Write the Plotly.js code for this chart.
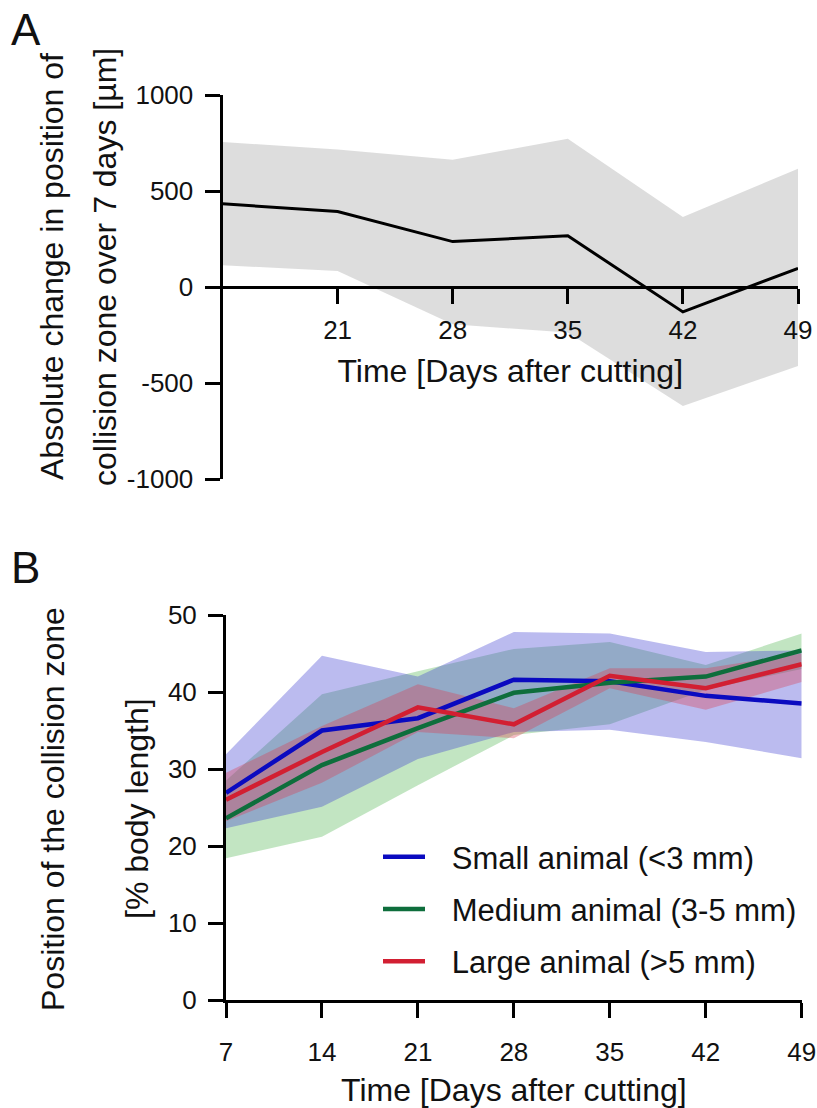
<!DOCTYPE html>
<html>
<head>
<meta charset="utf-8">
<script src="https://cdn.plot.ly/plotly-3.0.1.min.js"></script>
<style>html,body{margin:0;padding:0;background:#fff;}#chart{width:817px;height:1108px;}</style>
</head>
<body>
<div id="chart"></div>
<script>
// ---------- Panel A data ----------
const daysA = [14, 21, 28, 35, 42, 49];
const meanA = [435, 395, 238, 268, -128, 99];
const upperA = [757, 718, 664, 774, 366, 618];
const lowerA = [115, 85, -193, -236, -618, -410];
const ticksA_x = [21, 28, 35, 42, 49];
const ticksA_y = [-1000, -500, 0, 500, 1000];
const titleA_y = ['Absolute change in position of', 'collision zone over 7 days [µm]'];
const titleA_x = 'Time [Days after cutting]';

// ---------- Panel B data ----------
const daysB = [7, 14, 21, 28, 35, 42, 49];
const smallMean  = [26.9, 35.0, 36.6, 41.6, 41.4, 39.5, 38.5];
const smallUpper = [31.9, 44.7, 42.0, 47.8, 47.6, 45.2, 45.4];
const smallLower = [22.3, 25.1, 31.3, 34.8, 35.1, 33.5, 31.4];
const mediumMean  = [23.6, 30.5, 35.3, 39.9, 41.2, 42.0, 45.4];
const mediumUpper = [28.5, 39.7, 42.7, 45.6, 46.5, 43.5, 47.6];
const mediumLower = [18.4, 21.2, 27.9, 34.4, 35.8, 40.3, 43.0];
const largeMean  = [26.0, 32.2, 38.0, 35.8, 42.1, 40.5, 43.6];
const largeUpper = [29.5, 35.6, 41.0, 37.9, 43.1, 43.1, 45.0];
const largeLower = [23.2, 28.2, 34.8, 34.0, 40.5, 37.7, 41.3];
const ticksB_x = [7, 14, 21, 28, 35, 42, 49];
const ticksB_y = [0, 10, 20, 30, 40, 50];
const seriesNames = ['Small animal (<3 mm)', 'Medium animal (3-5 mm)', 'Large animal (>5 mm)'];
const titleB_y = ['Position of the collision zone', '[% body length]'];
const titleB_x = 'Time [Days after cutting]';

const W = 817, H = 1108;
const FONT = 'Liberation Sans, Arial, sans-serif';
const TXT = '#111';
const px = v => v / W;
const py = v => 1 - v / H;

function band(x, up, lo, color, xa, ya) {
  return [
    {x: x, y: up, xaxis: xa, yaxis: ya, type: 'scatter', mode: 'lines', line: {width: 0}, showlegend: false, hoverinfo: 'skip'},
    {x: x, y: lo, xaxis: xa, yaxis: ya, type: 'scatter', mode: 'lines', line: {width: 0}, fill: 'tonexty', fillcolor: color, showlegend: false, hoverinfo: 'skip'}
  ];
}

const traces = [];
// Panel A
traces.push(...band(daysA, upperA, lowerA, 'rgba(200,200,200,0.62)', 'x', 'y'));
traces.push({x: daysA, y: meanA, xaxis: 'x', yaxis: 'y', type: 'scatter', mode: 'lines', line: {color: '#000', width: 3}, showlegend: false});

// Panel B bands
traces.push(...band(daysB, mediumUpper, mediumLower, 'rgba(80,180,80,0.35)', 'x2', 'y2'));
traces.push(...band(daysB, smallUpper, smallLower, 'rgba(60,60,210,0.35)', 'x2', 'y2'));
traces.push(...band(daysB, largeUpper, largeLower, 'rgba(220,60,80,0.35)', 'x2', 'y2'));
// Panel B lines
const lineColors = ['#0a0ac0', '#0e6e3c', '#d21f32'];
[smallMean, mediumMean, largeMean].forEach((m, i) => {
  traces.push({x: daysB, y: m, xaxis: 'x2', yaxis: 'y2', type: 'scatter', mode: 'lines',
    name: '\u2002\u2009' + seriesNames[i], legendgroup: 'g' + i, line: {color: lineColors[i], width: 4.5}});
});

const domA_x = [px(222.5), px(798)];
const domA_y = [py(479.3), py(95.3)];
const rangeA_y = [-1000, 1000];
const zeroPosA = domA_y[0] + (0 - rangeA_y[0]) / (rangeA_y[1] - rangeA_y[0]) * (domA_y[1] - domA_y[0]);

const axisCommon = {
  showline: true, linecolor: '#000', linewidth: 3, ticks: 'outside', ticklen: 15, tickwidth: 3, tickcolor: '#000',
  showgrid: false, zeroline: false, tickfont: {family: FONT, size: 26, color: TXT}, fixedrange: true
};
const titleFont = {family: FONT, size: 32, color: TXT};

function vtext(text, xPix, yPix) {
  return {text: text, x: px(xPix), y: py(yPix), xref: 'paper', yref: 'paper', xanchor: 'center', yanchor: 'middle',
    textangle: -90, showarrow: false, font: titleFont};
}

const layout = {
  width: W, height: H,
  margin: {l: 0, r: 0, t: 0, b: 0},
  paper_bgcolor: '#fff', plot_bgcolor: 'rgba(0,0,0,0)',
  font: {family: FONT, color: TXT},
  xaxis: Object.assign({}, axisCommon, {
    domain: domA_x, range: [14, 49], tickvals: ticksA_x, ticktext: ticksA_x.map(String), anchor: 'free', position: zeroPosA,
    ticklabelstandoff: 3,
    title: {text: titleA_x, font: titleFont, standoff: 16}
  }),
  yaxis: Object.assign({}, axisCommon, {
    domain: domA_y, range: rangeA_y, tickvals: ticksA_y, ticktext: ticksA_y.map(String), anchor: 'x', ticklabelstandoff: 6
  }),
  xaxis2: Object.assign({}, axisCommon, {
    domain: [px(226), px(801.7)], range: [7, 49], tickvals: ticksB_x, ticktext: ticksB_x.map(String), anchor: 'y2', ticklabelstandoff: 12,
    title: {text: titleB_x, font: titleFont, standoff: 26}
  }),
  yaxis2: Object.assign({}, axisCommon, {
    domain: [py(1000), py(615)], range: [0, 50], tickvals: ticksB_y, ticktext: ticksB_y.map(String), anchor: 'x2', ticklabelstandoff: 6
  }),
  showlegend: true,
  legend: {
    x: px(378), y: py(830), xanchor: 'left', yanchor: 'top',
    bgcolor: 'rgba(0,0,0,0)', font: {family: FONT, size: 31, color: TXT},
    tracegroupgap: 9, itemwidth: 42
  },
  annotations: [
    {text: 'A', x: px(9), y: py(3), xref: 'paper', yref: 'paper', xanchor: 'left', yanchor: 'top', showarrow: false, font: {family: FONT, size: 44, color: TXT}},
    {text: 'B', x: px(9), y: py(541), xref: 'paper', yref: 'paper', xanchor: 'left', yanchor: 'top', showarrow: false, font: {family: FONT, size: 44, color: TXT}},
    vtext(titleA_y[0], 52, 267),
    vtext(titleA_y[1], 105, 267),
    vtext(titleB_y[0], 53, 809),
    vtext(titleB_y[1], 137, 809)
  ]
};

Plotly.newPlot('chart', traces, layout, {staticPlot: true, displayModeBar: false});
</script>
</body>
</html>
